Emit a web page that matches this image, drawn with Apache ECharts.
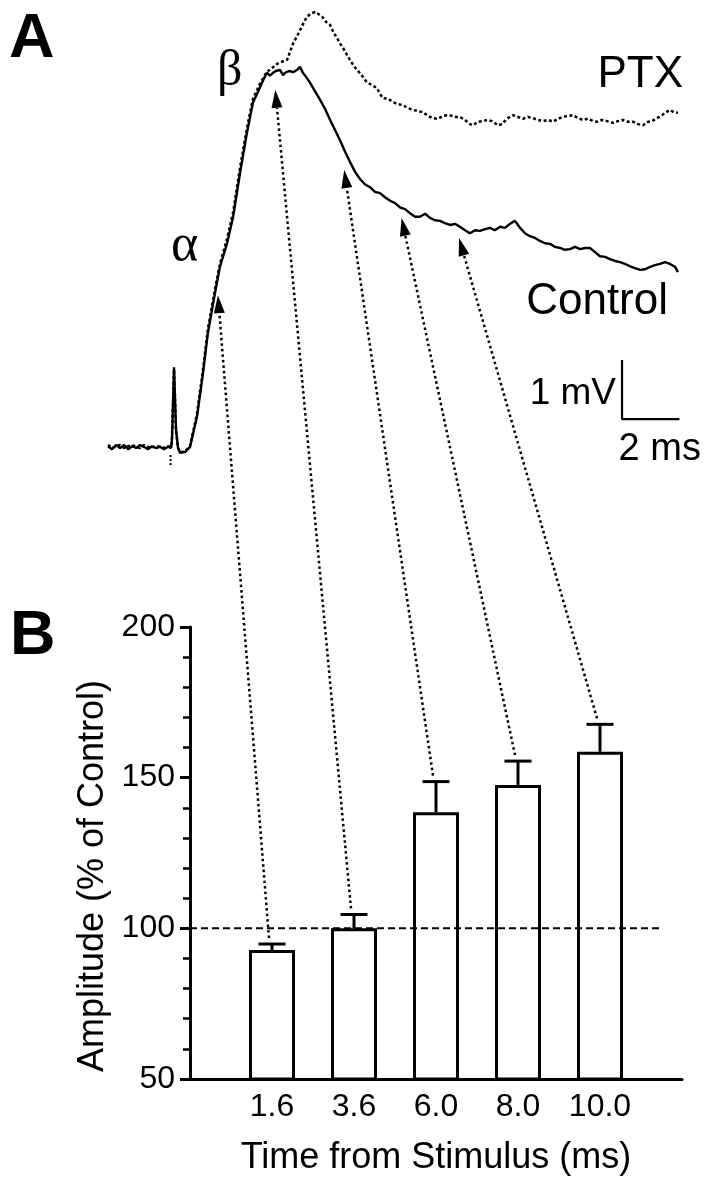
<!DOCTYPE html>
<html><head><meta charset="utf-8">
<script src="https://cdn.jsdelivr.net/npm/echarts@6/dist/echarts.min.js"></script>
<style>html,body{margin:0;padding:0;background:#fff;}#c{width:711px;height:1199px;}</style>
</head><body><div id="c"></div>
<script>
// ---------- Panel B data ----------
const timeLabels = ['1.6', '3.6', '6.0', '8.0', '10.0'];
const barPositions = [1, 2, 3, 4, 5];
const amplitudeMean = [92.8, 100, 138.5, 147.6, 158.6];
const amplitudeSem = [2.0, 4.6, 10.2, 7.9, 9.1];
const referenceLevel = 100;
const yMin = 50, yMax = 200, yStep = 50;

// ---------- Panel A data (time in ms, potential in mV) ----------
const controlTrace = [
[-2.23,0.03],[-2.09,-0.02],[-1.95,0.05],[-1.81,0],[-1.67,0.05],[-1.53,-0.02],[-1.39,0.03],[-1.25,0],
[-1.11,0.05],[-0.98,0.02],[-0.84,-0.02],[-0.70,0.03],[-0.56,0],[-0.42,0.02],[-0.28,-0.02],[-0.14,0.02],
[-0.03,0],[0,0.14],[0.07,1.37],[0.14,0.31],[0.21,0],[0.28,-0.08],[0.45,-0.07],[0.63,0.02],[0.87,0.53],
[1.08,1.27],[1.25,1.95],[1.50,2.63],[1.67,3.07],[1.92,3.47],[2.13,3.92],[2.37,4.66],[2.61,5.34],[2.82,5.85],
[3.07,6.12],[3.21,6.27],[3.31,6.36],[3.41,6.31],[3.52,6.36],[3.62,6.39],[3.76,6.41],[3.87,6.32],[3.94,6.36],
[4.08,6.39],[4.22,6.37],[4.36,6.41],[4.46,6.46],[4.56,6.36],[4.67,6.29],[4.81,6.19],[4.98,6.05],[5.16,5.90],
[5.33,5.75],[5.51,5.56],[5.68,5.39],[5.85,5.22],[6.03,5.02],[6.20,4.85],[6.38,4.68],[6.55,4.56],[6.72,4.47],
[6.90,4.42],[7.07,4.34],[7.25,4.32],[7.42,4.25],[7.60,4.19],[7.77,4.15],[7.94,4.08],[8.12,4.05],[8.29,3.98],
[8.47,3.92],[8.64,3.92],[8.82,3.97],[8.99,3.90],[9.16,3.86],[9.34,3.85],[9.51,3.81],[9.69,3.78],[9.86,3.80],
[10.03,3.75],[10.21,3.69],[10.38,3.64],[10.56,3.69],[10.73,3.68],[10.91,3.71],[11.08,3.73],[11.25,3.69],
[11.43,3.75],[11.60,3.73],[11.78,3.80],[11.95,3.85],[12.13,3.73],[12.30,3.64],[12.47,3.59],[12.65,3.56],
[12.82,3.51],[13.00,3.47],[13.17,3.46],[13.34,3.41],[13.52,3.39],[13.69,3.36],[13.87,3.37],[14.04,3.41],
[14.22,3.37],[14.39,3.39],[14.56,3.39],[14.74,3.32],[14.91,3.25],[15.09,3.24],[15.26,3.20],[15.44,3.17],
[15.61,3.15],[15.78,3.12],[15.96,3.08],[16.13,3.05],[16.31,3.02],[16.48,3.03],[16.66,3.07],[16.83,3.10],
[17.00,3.12],[17.18,3.15],[17.35,3.12],[17.53,3.07],[17.63,2.98]
];
const ptxTrace = [
[-2.23,0.05],[-2.09,0.0],[-1.95,0.03],[-1.81,0.05],[-1.67,0.0],[-1.53,0.03],[-1.39,0.05],[-1.25,0.02],
[-1.11,0.0],[-0.98,0.05],[-0.84,0.02],[-0.70,0.0],[-0.56,0.04],[-0.42,0.02],[-0.28,0.0],[-0.14,0.03],
[-0.03,0.02],[0,0.2],[0.07,1.33],[0.14,0.3],[0.21,0.0],[0.28,-0.07],[0.45,-0.06],[0.63,0.04],[0.87,0.58],
[1.08,1.33],[1.25,2.02],[1.50,2.70],[1.67,3.12],[1.92,3.55],[2.13,4.0],[2.37,4.75],[2.61,5.42],[2.82,5.92],
[3.07,6.18],[3.21,6.30],[3.31,6.38],[3.41,6.41],[3.66,6.51],[3.76,6.53],[3.90,6.56],[4.01,6.58],[4.11,6.71],
[4.22,6.86],[4.36,6.98],[4.46,7.08],[4.60,7.22],[4.70,7.31],[4.84,7.36],[4.98,7.39],[5.09,7.36],[5.23,7.31],
[5.37,7.22],[5.51,7.17],[5.64,7.03],[5.75,6.95],[5.85,6.86],[5.96,6.78],[6.10,6.66],[6.20,6.58],[6.34,6.47],
[6.45,6.41],[6.62,6.31],[6.79,6.20],[6.97,6.15],[7.14,6.10],[7.25,6.00],[7.35,5.93],[7.53,5.92],[7.70,5.86],
[7.87,5.83],[8.05,5.81],[8.22,5.76],[8.40,5.73],[8.57,5.71],[8.75,5.69],[8.92,5.63],[9.09,5.59],[9.27,5.58],
[9.44,5.63],[9.58,5.64],[9.76,5.63],[9.90,5.61],[10.03,5.61],[10.21,5.56],[10.38,5.49],[10.49,5.47],
[10.66,5.53],[10.84,5.54],[10.98,5.56],[11.15,5.54],[11.36,5.47],[11.50,5.49],[11.67,5.58],[11.88,5.64],
[12.06,5.61],[12.23,5.58],[12.40,5.61],[12.58,5.59],[12.75,5.56],[12.93,5.54],[13.10,5.56],[13.28,5.53],
[13.45,5.58],[13.62,5.61],[13.80,5.63],[13.97,5.64],[14.15,5.59],[14.32,5.56],[14.49,5.58],[14.67,5.54],
[14.81,5.53],[14.98,5.56],[15.16,5.54],[15.37,5.51],[15.54,5.54],[15.71,5.56],[15.89,5.53],[16.06,5.53],
[16.24,5.49],[16.41,5.47],[16.59,5.53],[16.72,5.54],[16.90,5.59],[17.07,5.64],[17.21,5.69],[17.35,5.73],
[17.49,5.69],[17.63,5.68]
];
const stimulusMark = [[-0.05,-0.12],[-0.05,-0.30]];
const arrowTimes = [1.6, 3.6, 6.0, 8.0, 10.0];
const arrowTipV = [2.59, 6.07, 4.71, 3.90, 3.56];
const scaleBarOrigin = [15.68, 0.49];
const scaleBarMs = 2, scaleBarMv = 1;

const FONT = "'Liberation Sans', Arial, Helvetica, sans-serif";
const SERIF = "'Liberation Serif', 'DejaVu Serif', serif";
const chart = echarts.init(document.getElementById('c'), null, {renderer: 'canvas'});

const scaleBarData = [
  [scaleBarOrigin[0], scaleBarOrigin[1] + scaleBarMv],
  scaleBarOrigin,
  [scaleBarOrigin[0] + scaleBarMs, scaleBarOrigin[1]]
];

chart.setOption({
  backgroundColor: '#fff',
  animation: false,
  grid: [
    {left: 106, top: 5.5, width: 574, height: 472},
    {left: 190, top: 627, width: 492, height: 452}
  ],
  xAxis: [
    {gridIndex: 0, type: 'value', min: -2.3, max: 17.7, show: false},
    {gridIndex: 1, type: 'value', min: 0, max: 6, interval: 1,
     axisLine: {lineStyle: {color: '#000', width: 3}},
     axisTick: {show: false}, splitLine: {show: false},
     axisLabel: {color: '#000', fontFamily: FONT, fontSize: 32, margin: 12,
       formatter: v => (v >= 1 && v <= timeLabels.length) ? timeLabels[v - 1] : ''},
     name: 'Time from Stimulus (ms)', nameLocation: 'middle', nameGap: 61,
     nameTextStyle: {color: '#000', fontFamily: FONT, fontSize: 36}}
  ],
  yAxis: [
    {gridIndex: 0, type: 'value', min: -0.5, max: 7.5, show: false},
    {gridIndex: 1, type: 'value', min: yMin, max: yMax, interval: yStep,
     axisLine: {show: true, lineStyle: {color: '#000', width: 3}},
     axisTick: {show: true, length: 10, lineStyle: {color: '#000', width: 3}},
     minorTick: {show: true, splitNumber: 5, length: 7, lineStyle: {color: '#000', width: 2.5}},
     splitLine: {show: false},
     axisLabel: {color: '#000', fontFamily: FONT, fontSize: 32, margin: 15},
     name: 'Amplitude (% of Control)', nameLocation: 'middle', nameGap: 76,
     nameTextStyle: {color: '#000', fontFamily: FONT, fontSize: 36, padding: [0, 46, 0, 0]}}
  ],
  series: [
    {type: 'line', name: 'Control', xAxisIndex: 0, yAxisIndex: 0, data: controlTrace,
     symbol: 'none', lineStyle: {color: '#000', width: 2.4}, z: 3},
    {type: 'line', name: 'PTX', xAxisIndex: 0, yAxisIndex: 0, data: ptxTrace,
     symbol: 'none', lineStyle: {color: '#000', width: 2.5, type: [3, 2.5]}, z: 2},
    {type: 'line', name: 'stimulus', xAxisIndex: 0, yAxisIndex: 0, data: stimulusMark,
     symbol: 'none', lineStyle: {color: '#000', width: 2, type: [2, 2]}},
    {type: 'line', name: 'scale', xAxisIndex: 0, yAxisIndex: 0, data: scaleBarData,
     symbol: 'none', lineStyle: {color: '#000', width: 2.2}},
    {type: 'bar', name: 'Amplitude', xAxisIndex: 1, yAxisIndex: 1,
     data: barPositions.map((p, i) => [p, amplitudeMean[i]]),
     barWidth: 46, itemStyle: {color: '#fff', borderColor: '#000', borderWidth: 3}, z: 2},
    {type: 'custom', name: 'SEM', xAxisIndex: 1, yAxisIndex: 1,
     data: barPositions.map((p, i) => [p, amplitudeMean[i], amplitudeMean[i] + amplitudeSem[i]]),
     renderItem: (params, api) => {
       const lo = api.coord([api.value(0), api.value(1)]);
       const hi = api.coord([api.value(0), api.value(2)]);
       const hw = 13.5;
       return {type: 'group', children: [
         {type: 'line', shape: {x1: lo[0], y1: lo[1], x2: hi[0], y2: hi[1]}, style: {stroke: '#000', lineWidth: 3}},
         {type: 'line', shape: {x1: hi[0] - hw, y1: hi[1], x2: hi[0] + hw, y2: hi[1]}, style: {stroke: '#000', lineWidth: 3}}
       ]};
     }, z: 3},
    {type: 'line', name: 'reference', xAxisIndex: 1, yAxisIndex: 1,
     data: [[0, referenceLevel], [5.76, referenceLevel]], symbol: 'none',
     lineStyle: {color: '#000', width: 2, type: [7, 4]}, z: 4}
  ]
});

// text labels and arrows (arrows linked from bar SEM tops to trace time points)
const g = [];
function txt(text, x, y, font, align, va) {
  g.push({type: 'text', z: 10, style: {text, x, y, font, fill: '#000', align: align || 'left', verticalAlign: va || 'middle'}});
}
txt('A', 9, 40, "bold 63px " + FONT);
txt('B', 10, 637, "bold 63px " + FONT);
txt('β', 217, 72, "50px " + SERIF);
txt('α', 171, 246, "52px " + SERIF);
txt('PTX', 683, 75, "44px " + FONT, 'right');
txt('Control', 668, 302, "44px " + FONT, 'right');
const sbTop = chart.convertToPixel({gridIndex: 0}, scaleBarData[0]);
const sbO = chart.convertToPixel({gridIndex: 0}, scaleBarData[1]);
const sbR = chart.convertToPixel({gridIndex: 0}, scaleBarData[2]);
txt('1 mV', sbO[0] - 6, (sbTop[1] + sbO[1]) / 2 + 4, "37px " + FONT, 'right');
txt('2 ms', (sbO[0] + sbR[0]) / 2 + 9, sbO[1] + 30, "38px " + FONT, 'center');

for (let i = 0; i < arrowTimes.length; i++) {
  const s = chart.convertToPixel({gridIndex: 1}, [barPositions[i], amplitudeMean[i] + amplitudeSem[i]]);
  const sx = s[0] - 3, sy = s[1] - 6;
  const t = chart.convertToPixel({gridIndex: 0}, [arrowTimes[i], arrowTipV[i]]);
  const dx = t[0] - sx, dy = t[1] - sy, len = Math.hypot(dx, dy);
  const ux = dx / len, uy = dy / len, nx = -uy, ny = ux;
  const L = 18, W = 5.5;
  const bx = t[0] - ux * L, by = t[1] - uy * L;
  g.push({type: 'line', z: 9, shape: {x1: sx, y1: sy, x2: bx, y2: by},
          style: {stroke: '#000', lineWidth: 2.5, lineDash: [2.5, 3]}});
  g.push({type: 'polygon', z: 9, shape: {points: [[t[0], t[1]], [bx + nx * W, by + ny * W], [bx - nx * W, by - ny * W]]},
          style: {fill: '#000'}});
}
chart.setOption({graphic: g});
</script></body></html>
